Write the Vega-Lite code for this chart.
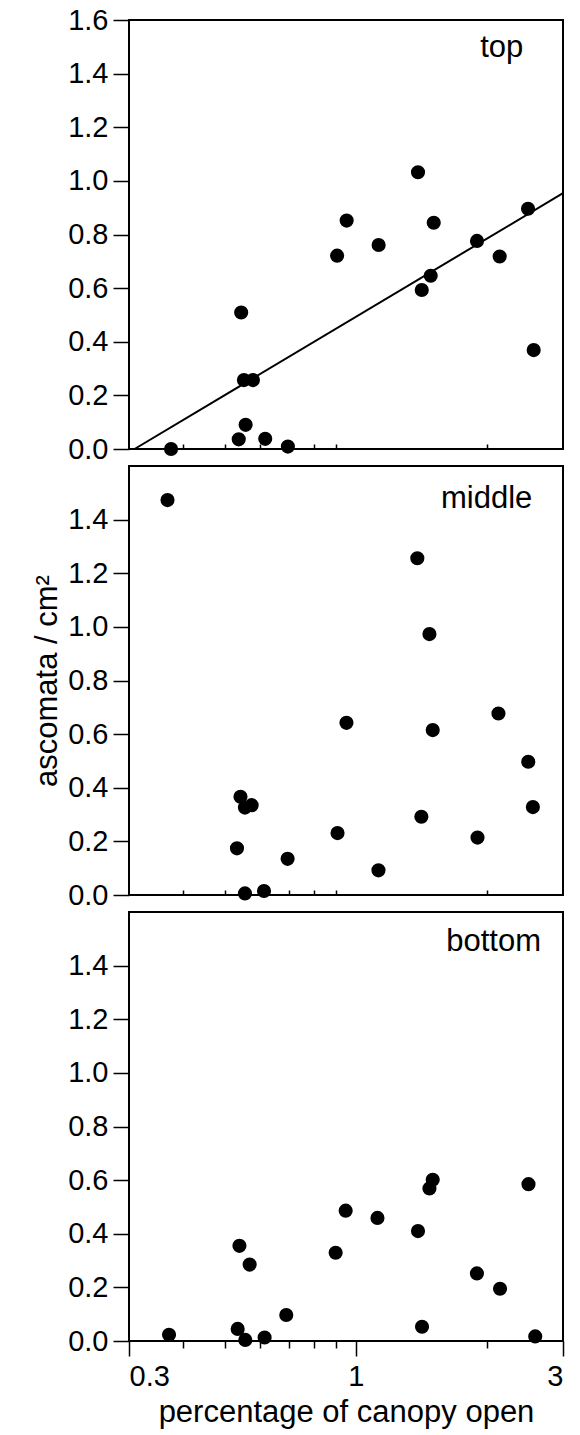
{
  "$schema": "https://vega.github.io/schema/vega-lite/v6.json",
  "padding": {"left": 30, "top": 5, "right": 2, "bottom": 2},
  "background": "white",
  "config": {
    "font": "Liberation Sans",
    "view": {"stroke": "black", "strokeWidth": 2},
    "axis": {
      "labelFont": "Liberation Sans",
      "titleFont": "Liberation Sans",
      "labelColor": "black",
      "titleColor": "black",
      "tickColor": "black",
      "domainColor": "black",
      "tickWidth": 1.5,
      "grid": false,
      "labelFontSize": 29,
      "titleFontSize": 31,
      "titleFontWeight": "normal"
    }
  },
  "datasets": {
    "top": [
      {"canopy": 0.375, "ascomata": 0.0},
      {"canopy": 0.544, "ascomata": 0.509},
      {"canopy": 0.552, "ascomata": 0.257},
      {"canopy": 0.579, "ascomata": 0.257},
      {"canopy": 0.557, "ascomata": 0.09},
      {"canopy": 0.537, "ascomata": 0.036},
      {"canopy": 0.618, "ascomata": 0.038},
      {"canopy": 0.697, "ascomata": 0.009},
      {"canopy": 1.39, "ascomata": 1.032},
      {"canopy": 0.952, "ascomata": 0.852},
      {"canopy": 0.905, "ascomata": 0.721},
      {"canopy": 1.128, "ascomata": 0.761},
      {"canopy": 1.511, "ascomata": 0.844},
      {"canopy": 1.487, "ascomata": 0.646},
      {"canopy": 1.418, "ascomata": 0.593},
      {"canopy": 1.901, "ascomata": 0.776},
      {"canopy": 2.144, "ascomata": 0.718},
      {"canopy": 2.492, "ascomata": 0.896},
      {"canopy": 2.568, "ascomata": 0.369}
    ],
    "fit": [
      {"canopy": 0.309, "ascomata": 0.0},
      {"canopy": 3.0, "ascomata": 0.954}
    ],
    "middle": [
      {"canopy": 0.368, "ascomata": 1.473},
      {"canopy": 0.542, "ascomata": 0.366},
      {"canopy": 0.555, "ascomata": 0.326},
      {"canopy": 0.575, "ascomata": 0.335},
      {"canopy": 0.532, "ascomata": 0.174},
      {"canopy": 0.555, "ascomata": 0.006},
      {"canopy": 0.614, "ascomata": 0.015},
      {"canopy": 0.696, "ascomata": 0.135},
      {"canopy": 1.385, "ascomata": 1.256},
      {"canopy": 1.477, "ascomata": 0.973},
      {"canopy": 0.951, "ascomata": 0.642},
      {"canopy": 1.503, "ascomata": 0.615},
      {"canopy": 2.13, "ascomata": 0.677},
      {"canopy": 2.495, "ascomata": 0.497},
      {"canopy": 2.557, "ascomata": 0.328},
      {"canopy": 1.415, "ascomata": 0.292},
      {"canopy": 0.907, "ascomata": 0.231},
      {"canopy": 1.906, "ascomata": 0.214},
      {"canopy": 1.127, "ascomata": 0.092}
    ],
    "bottom": [
      {"canopy": 0.371, "ascomata": 0.023},
      {"canopy": 0.539, "ascomata": 0.355},
      {"canopy": 0.569, "ascomata": 0.285},
      {"canopy": 0.534, "ascomata": 0.045},
      {"canopy": 0.556, "ascomata": 0.004},
      {"canopy": 0.616, "ascomata": 0.013},
      {"canopy": 0.691, "ascomata": 0.097},
      {"canopy": 0.898, "ascomata": 0.329},
      {"canopy": 0.947, "ascomata": 0.486},
      {"canopy": 1.121, "ascomata": 0.459},
      {"canopy": 1.39, "ascomata": 0.41},
      {"canopy": 1.503, "ascomata": 0.601},
      {"canopy": 1.477, "ascomata": 0.569},
      {"canopy": 1.42, "ascomata": 0.053},
      {"canopy": 1.9, "ascomata": 0.252},
      {"canopy": 2.148, "ascomata": 0.195},
      {"canopy": 2.498, "ascomata": 0.585},
      {"canopy": 2.589, "ascomata": 0.017}
    ]
  },
  "bounds": "flush",
  "spacing": 17,
  "vconcat": [
    {
      "width": 434,
      "height": 429,
      "layer": [
        {
          "data": {"name": "top"},
          "mark": {"type": "point", "filled": true, "shape": "circle", "size": 200, "color": "black", "opacity": 1},
          "encoding": {
            "x": {"field": "canopy", "type": "quantitative", "scale": {"type": "log", "domain": [0.3, 3], "nice": false},
              "axis": {"values": [0.4, 0.5, 0.6, 0.7, 0.8, 0.9, 2], "labels": false, "domain": false, "tickSize": -5, "title": null}},
            "y": {"field": "ascomata", "type": "quantitative", "scale": {"domain": [0, 1.6], "nice": false},
              "axis": {"values": [0, 0.1, 0.2, 0.3, 0.4, 0.5, 0.6, 0.7, 0.8, 0.9, 1.0, 1.1, 1.2, 1.3, 1.4, 1.5, 1.6], "domain": false, "title": null, "labelPadding": 5,
                "labelExpr": "round(datum.value*10) % 2 == 0 ? format(datum.value, '.1f') : ''",
                "tickSize": {"condition": {"test": "round(datum.value*10) % 2 == 0", "value": 16}, "value": 8}}}
          }
        },
        {
          "data": {"name": "fit"},
          "mark": {"type": "line", "color": "black", "strokeWidth": 2},
          "encoding": {
            "x": {"field": "canopy", "type": "quantitative"},
            "y": {"field": "ascomata", "type": "quantitative"}
          }
        },
        {
          "data": {"values": [{"label": "top"}]},
          "mark": {"type": "text", "align": "right", "baseline": "alphabetic", "fontSize": 31, "font": "Liberation Sans", "color": "black"},
          "encoding": {
            "text": {"field": "label", "type": "nominal"},
            "x": {"datum": 2.43, "type": "quantitative"},
            "y": {"datum": 1.462, "type": "quantitative"}
          }
        }
      ]
    },
    {
      "width": 434,
      "height": 429,
      "layer": [
        {
          "data": {"name": "middle"},
          "mark": {"type": "point", "filled": true, "shape": "circle", "size": 200, "color": "black", "opacity": 1},
          "encoding": {
            "x": {"field": "canopy", "type": "quantitative", "scale": {"type": "log", "domain": [0.3, 3], "nice": false},
              "axis": {"values": [0.4, 0.5, 0.6, 0.7, 0.8, 0.9, 2], "labels": false, "domain": false, "tickSize": -5, "title": null}},
            "y": {"field": "ascomata", "type": "quantitative", "scale": {"domain": [0, 1.6], "nice": false},
              "axis": {"values": [0, 0.1, 0.2, 0.3, 0.4, 0.5, 0.6, 0.7, 0.8, 0.9, 1.0, 1.1, 1.2, 1.3, 1.4, 1.5], "domain": false, "title": "ascomata / cm²", "titlePadding": 4, "labelPadding": 5,
                "labelExpr": "round(datum.value*10) % 2 == 0 ? format(datum.value, '.1f') : ''",
                "tickSize": {"condition": {"test": "round(datum.value*10) % 2 == 0", "value": 16}, "value": 8}}}
          }
        },
        {
          "data": {"values": [{"label": "middle"}]},
          "mark": {"type": "text", "align": "right", "baseline": "alphabetic", "fontSize": 31, "font": "Liberation Sans", "color": "black"},
          "encoding": {
            "text": {"field": "label", "type": "nominal"},
            "x": {"datum": 2.55, "type": "quantitative"},
            "y": {"datum": 1.443, "type": "quantitative"}
          }
        }
      ]
    },
    {
      "width": 434,
      "height": 429,
      "layer": [
        {
          "data": {"name": "bottom"},
          "mark": {"type": "point", "filled": true, "shape": "circle", "size": 200, "color": "black", "opacity": 1},
          "encoding": {
            "x": {"field": "canopy", "type": "quantitative", "scale": {"type": "log", "domain": [0.3, 3], "nice": false},
              "axis": {"values": [0.3, 0.4, 0.5, 0.6, 0.7, 0.8, 0.9, 1, 2, 3], "domain": false, "title": "percentage of canopy open", "labelPadding": 6, "titlePadding": 6,
                "labelExpr": "datum.value == 0.3 ? '0.3' : (datum.value == 1 ? '1' : (datum.value == 3 ? '3' : ''))",
                "tickSize": {"condition": {"test": "datum.value == 0.3 || datum.value == 1 || datum.value == 3", "value": 15}, "value": 7}}},
            "y": {"field": "ascomata", "type": "quantitative", "scale": {"domain": [0, 1.6], "nice": false},
              "axis": {"values": [0, 0.1, 0.2, 0.3, 0.4, 0.5, 0.6, 0.7, 0.8, 0.9, 1.0, 1.1, 1.2, 1.3, 1.4, 1.5], "domain": false, "title": null, "labelPadding": 5,
                "labelExpr": "round(datum.value*10) % 2 == 0 ? format(datum.value, '.1f') : ''",
                "tickSize": {"condition": {"test": "round(datum.value*10) % 2 == 0", "value": 16}, "value": 8}}}
          }
        },
        {
          "data": {"values": [{"label": "bottom"}]},
          "mark": {"type": "text", "align": "right", "baseline": "alphabetic", "fontSize": 31, "font": "Liberation Sans", "color": "black"},
          "encoding": {
            "text": {"field": "label", "type": "nominal"},
            "x": {"datum": 2.67, "type": "quantitative"},
            "y": {"datum": 1.454, "type": "quantitative"}
          }
        }
      ]
    }
  ]
}
